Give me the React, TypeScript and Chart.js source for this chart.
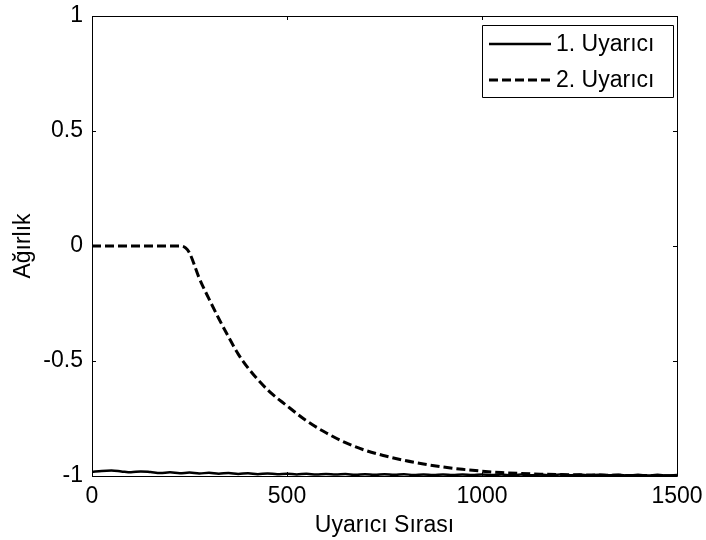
import React, { useEffect, useRef } from "react";
import { Chart, registerables } from "chart.js";

Chart.register(...registerables);

const seriesLabels = ["1. Uyarıcı", "2. Uyarıcı"];
const xTitle = "Uyarıcı Sırası";
const yTitle = "Ağırlık";
const xTicks = [0, 500, 1000, 1500];
const yTicks = [-1, -0.5, 0, 0.5, 1];

// Series 1 (solid) sampled every 25
const x1 = [
  0, 25, 50, 75, 100, 125, 150, 175, 200, 225, 250, 275, 300, 325, 350, 375, 400, 425, 450, 475,
  500, 525, 550, 575, 600, 625, 650, 675, 700, 725, 750, 775, 800, 825, 850, 875, 900, 925, 950, 975,
  1000, 1025, 1050, 1075, 1100, 1125, 1150, 1175, 1200, 1225, 1250, 1275, 1300, 1325, 1350, 1375, 1400, 1425, 1450, 1475,
  1500,
];
const y1 = [
  -0.982, -0.978, -0.976, -0.98, -0.984, -0.98, -0.983, -0.987, -0.984, -0.988, -0.985, -0.989, -0.986, -0.99, -0.987, -0.991, -0.988, -0.992, -0.989, -0.992,
  -0.99, -0.993, -0.99, -0.994, -0.991, -0.994, -0.991, -0.995, -0.992, -0.995, -0.992, -0.995, -0.992, -0.996, -0.993, -0.996, -0.993, -0.996, -0.993, -0.996,
  -0.993, -0.996, -0.994, -0.997, -0.994, -0.997, -0.994, -0.997, -0.994, -0.997, -0.994, -0.997, -0.995, -0.997, -0.995, -0.998, -0.995, -0.998, -0.995, -0.998,
  -0.996,
];

// Series 2 (dashed)
const x2 = [
  0, 50, 100, 150, 200, 225, 240, 250, 275, 300, 325, 350, 375, 400, 450, 500, 550, 600, 650, 700,
  750, 800, 850, 900, 950, 1000, 1050, 1100, 1150, 1200, 1300, 1400, 1500,
];
const y2 = [
  0, 0, 0, 0, 0, 0, -0.008, -0.03, -0.14, -0.23, -0.315, -0.395, -0.47, -0.53, -0.625, -0.695, -0.76, -0.812, -0.855, -0.888,
  -0.912, -0.932, -0.948, -0.961, -0.971, -0.979, -0.985, -0.989, -0.992, -0.994, -0.996, -0.998, -0.999,
];

const FONT = "'Liberation Sans', Arial, sans-serif";
const FS = 23;

const boxPlugin = {
  id: "matlabBox",
  afterDatasetsDraw(chart: any) {
    const { ctx, chartArea } = chart;
    const { left, right, top, bottom } = chartArea;
    const xs = chart.scales.x;
    const ys = chart.scales.y;
    ctx.save();
    ctx.strokeStyle = "#000";
    ctx.lineWidth = 1;
    ctx.setLineDash([]);
    ctx.beginPath();
    ctx.rect(Math.round(left) + 0.5, Math.round(top) + 0.5, Math.round(right - left), Math.round(bottom - top));
    ctx.stroke();
    const tl = 4;
    ctx.beginPath();
    xTicks.forEach((v) => {
      const px = Math.round(xs.getPixelForValue(v)) + 0.5;
      ctx.moveTo(px, bottom);
      ctx.lineTo(px, bottom - tl);
      ctx.moveTo(px, top);
      ctx.lineTo(px, top + tl);
    });
    yTicks.forEach((v) => {
      const py = Math.round(ys.getPixelForValue(v)) + 0.5;
      ctx.moveTo(left, py);
      ctx.lineTo(left + tl, py);
      ctx.moveTo(right, py);
      ctx.lineTo(right - tl, py);
    });
    ctx.stroke();

    // legend
    const lx = 482, ly = 25, lw = 191, lh = 72;
    ctx.fillStyle = "#fff";
    ctx.fillRect(lx, ly, lw, lh);
    ctx.beginPath();
    ctx.rect(lx + 0.5, ly + 0.5, lw, lh);
    ctx.stroke();
    const rows = [44, 80];
    chart.data.datasets.forEach((ds: any, i: number) => {
      const y = rows[i];
      ctx.save();
      ctx.strokeStyle = "#000";
      ctx.lineWidth = ds.borderWidth;
      ctx.setLineDash(ds.borderDash || []);
      ctx.beginPath();
      ctx.moveTo(489, y);
      ctx.lineTo(551, y);
      ctx.stroke();
      ctx.restore();
      ctx.fillStyle = "#000";
      ctx.font = `${FS}px ${FONT}`;
      ctx.textBaseline = "middle";
      ctx.textAlign = "left";
      ctx.fillText(ds.label, 556, y + 1);
    });
    ctx.restore();
  },
};

export default function App() {
  const ref = useRef<HTMLCanvasElement | null>(null);
  useEffect(() => {
    if (!ref.current) return;
    const chart = new Chart(ref.current, {
      type: "line",
      data: {
        datasets: [
          {
            label: seriesLabels[0],
            data: x1.map((x, i) => ({ x, y: y1[i] })),
            borderColor: "#000",
            borderWidth: 2.5,
            pointRadius: 0,
            fill: false,
            cubicInterpolationMode: "monotone",
          },
          {
            label: seriesLabels[1],
            data: x2.map((x, i) => ({ x, y: y2[i] })),
            borderColor: "#000",
            borderWidth: 3,
            borderDash: [9, 4],
            pointRadius: 0,
            fill: false,
            cubicInterpolationMode: "monotone",
          },
        ],
      },
      options: {
        responsive: false,
        animation: false,
        layout: { padding: { top: 16, right: 29, left: 0, bottom: 0 } },
        plugins: { legend: { display: false }, tooltip: { enabled: false } },
        scales: {
          x: {
            type: "linear",
            min: 0,
            max: 1500,
            afterFit: (s: any) => {
              s.height = 64;
              s.paddingLeft = 0;
              s.paddingRight = 0;
            },
            afterBuildTicks: (s: any) => {
              s.ticks = xTicks.map((v) => ({ value: v }));
            },
            grid: { display: false, drawTicks: false },
            border: { display: false },
            ticks: {
              color: "#000",
              font: { family: FONT, size: FS },
              padding: 7,
              maxRotation: 0,
              callback: (v: any) => String(v),
            },
            title: {
              display: true,
              text: xTitle,
              color: "#000",
              font: { family: FONT, size: FS },
              padding: { top: 0, bottom: 1 },
            },
          },
          y: {
            type: "linear",
            min: -1,
            max: 1,
            afterFit: (s: any) => {
              s.width = 92;
              s.paddingTop = 0;
              s.paddingBottom = 0;
            },
            afterBuildTicks: (s: any) => {
              s.ticks = yTicks.map((v) => ({ value: v }));
            },
            grid: { display: false, drawTicks: false },
            border: { display: false },
            ticks: {
              color: "#000",
              font: { family: FONT, size: FS },
              padding: 9,
              callback: (v: any) => String(v),
            },
            title: {
              display: true,
              text: yTitle,
              color: "#000",
              font: { family: FONT, size: FS },
              padding: { top: 10, bottom: 0 },
            },
          },
        },
      },
      plugins: [boxPlugin],
    });
    return () => chart.destroy();
  }, []);
  return (
    <div style={{ position: "absolute", left: 0, top: 0 }}>
      <canvas ref={ref} width={706} height={540} style={{ display: "block", width: 706, height: 540 }} />
    </div>
  );
}
